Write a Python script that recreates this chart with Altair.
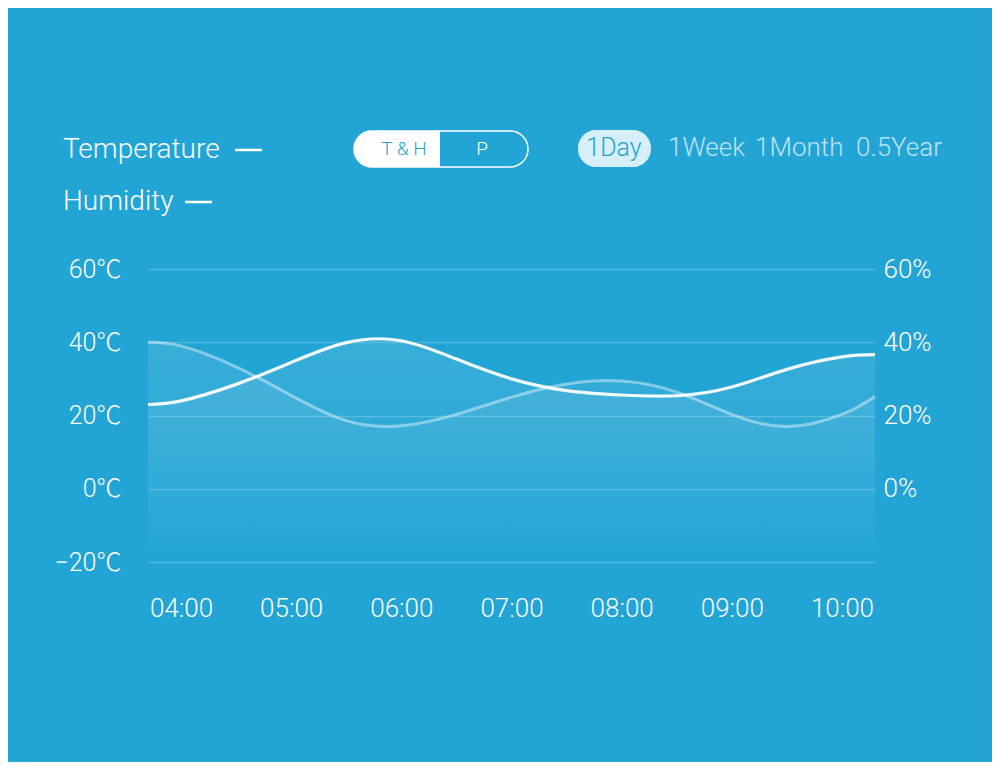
import altair as alt
import pandas as pd

# ---- data ----
hours = [3.7, 4.0, 4.5, 5.0, 5.5, 6.0, 6.5, 7.0, 7.5, 8.0, 8.5, 9.0, 9.5, 10.0, 10.3]
temperature = [23.0, 24.0, 28.5, 34.5, 39.9, 40.4, 35.4, 30.0, 26.8, 25.6, 25.4, 27.8, 32.6, 36.0, 36.6]
humidity = [40.0, 39.0, 33.3, 25.5, 18.6, 17.2, 20.3, 25.0, 28.6, 29.4, 26.4, 20.3, 17.0, 20.3, 25.2]
hour_ticks = [4, 5, 6, 7, 8, 9, 10]
temp_ticks = [-20, 0, 20, 40, 60]
hum_ticks = [0, 20, 40, 60]
series_names = ["Temperature", "Humidity"]
toggle_labels = ["T & H", "P"]
range_labels = ["1Day", "1Week", "1Month", "0.5Year"]

BG = "#22a4d4"
FONT = "Roboto"
LFONT = "Roboto, 'Noto Sans CJK SC'"

df_t = pd.DataFrame({"h": hours, "v": temperature})
df_h = pd.DataFrame({"h": hours, "v": humidity})

xscale = alt.Scale(domain=[3.7, 10.3], nice=False, zero=False)
yscale = alt.Scale(domain=[-20, 60], nice=False, zero=False)

xaxis = alt.Axis(
    values=hour_ticks,
    labelExpr="(datum.value < 10 ? '0' : '') + datum.value + ':00'",
    grid=False, domain=False, ticks=False,
    labelPadding=33, labelFontSize=26, labelColor="white",
    labelFont=FONT, labelFontWeight=300, title=None,
)
X = alt.X("h:Q", scale=xscale, axis=xaxis)

grad = alt.Gradient(
    gradient="linear",
    stops=[
        alt.GradientStop(color="rgba(255,255,255,0.10)", offset=0),
        alt.GradientStop(color="rgba(255,255,255,0.0)", offset=1),
    ],
    x1=1, x2=1, y1=0, y2=1,
)

INTERP = "natural"

def area(df):
    return alt.Chart(df).mark_area(interpolate=INTERP, color=grad).encode(
        x=X,
        y=alt.Y("v:Q", scale=yscale, axis=None),
        y2=alt.datum(-20),
    )

temp_line = alt.Chart(df_t).mark_line(
    interpolate=INTERP, color="white", strokeWidth=3.2, opacity=0.92
).encode(
    x=X,
    y=alt.Y("v:Q", scale=yscale, axis=alt.Axis(
        orient="left", values=temp_ticks, labelExpr="datum.label + '℃'",
        grid=True, gridColor="white", gridOpacity=0.2, gridWidth=1.5,
        domain=False, ticks=False, labelPadding=27, labelFontSize=25,
        labelColor="white", labelFont=LFONT, labelFontWeight=300, title=None,
    )),
)

hum_line = alt.Chart(df_h).mark_line(
    interpolate=INTERP, color="white", strokeWidth=3, opacity=0.42
).encode(
    x=X,
    y=alt.Y("v:Q", scale=yscale, axis=alt.Axis(
        orient="right", values=hum_ticks, labelExpr="datum.label + '%'",
        grid=False, domain=False, ticks=False, labelPadding=8, labelFontSize=26,
        labelColor="white", labelFont=FONT, labelFontWeight=300, title=None,
    )),
)

one = pd.DataFrame({"a": [0]})

def text(label, x, y, size=28, color="white", align="left", opacity=1.0):
    return alt.Chart(one).mark_text(
        text=label, align=align, baseline="middle", font=FONT, fontWeight=300,
        fontSize=size, color=color, opacity=opacity,
    ).encode(x=alt.value(x), y=alt.value(y))

def rule(x1, x2, y, width=2.5, opacity=1.0):
    return alt.Chart(one).mark_rule(color="white", strokeWidth=width, opacity=opacity).encode(
        x=alt.value(x1), x2=alt.value(x2), y=alt.value(y)
    )

def rect(x1, x2, y1, y2, **kw):
    return alt.Chart(one).mark_rect(**kw).encode(
        x=alt.value(x1), x2=alt.value(x2), y=alt.value(y1), y2=alt.value(y2)
    )

header = [
    text(series_names[0], -85, -119),
    rule(87, 114, -119),
    text(series_names[1], -85, -67),
    rule(37, 64, -67),
    rect(206, 380, -138, -102, fill=None, stroke="white", strokeWidth=1.5, cornerRadius=18),
    rect(206, 292, -138, -102, fill="white", cornerRadiusTopLeft=18, cornerRadiusBottomLeft=18),
    text(toggle_labels[0], 256, -120, size=19, color=BG, align="center"),
    text(toggle_labels[1], 334, -120, size=19, color="white", align="center"),
    rect(430, 503, -139, -102, fill="#d6eff9", cornerRadius=18),
    text(range_labels[0], 466, -121, size=25, color=BG, align="center"),
    text(range_labels[1], 520, -121, size=26, color="white", opacity=0.7),
    text(range_labels[2], 607, -121, size=26, color="white", opacity=0.7),
    text(range_labels[3], 708, -121, size=26, color="white", opacity=0.7),
]

chart = alt.layer(
    area(df_t), area(df_h), hum_line, temp_line, *header
).resolve_scale(y="independent").properties(
    width=727, height=293,
    autosize=alt.AutoSizeParams(type="none"),
    padding={"left": 140, "top": 261, "right": 117, "bottom": 200},
    background=BG,
).configure_view(stroke=None)

chart.save("out.html", embed_options={"renderer": "svg", "actions": False})
